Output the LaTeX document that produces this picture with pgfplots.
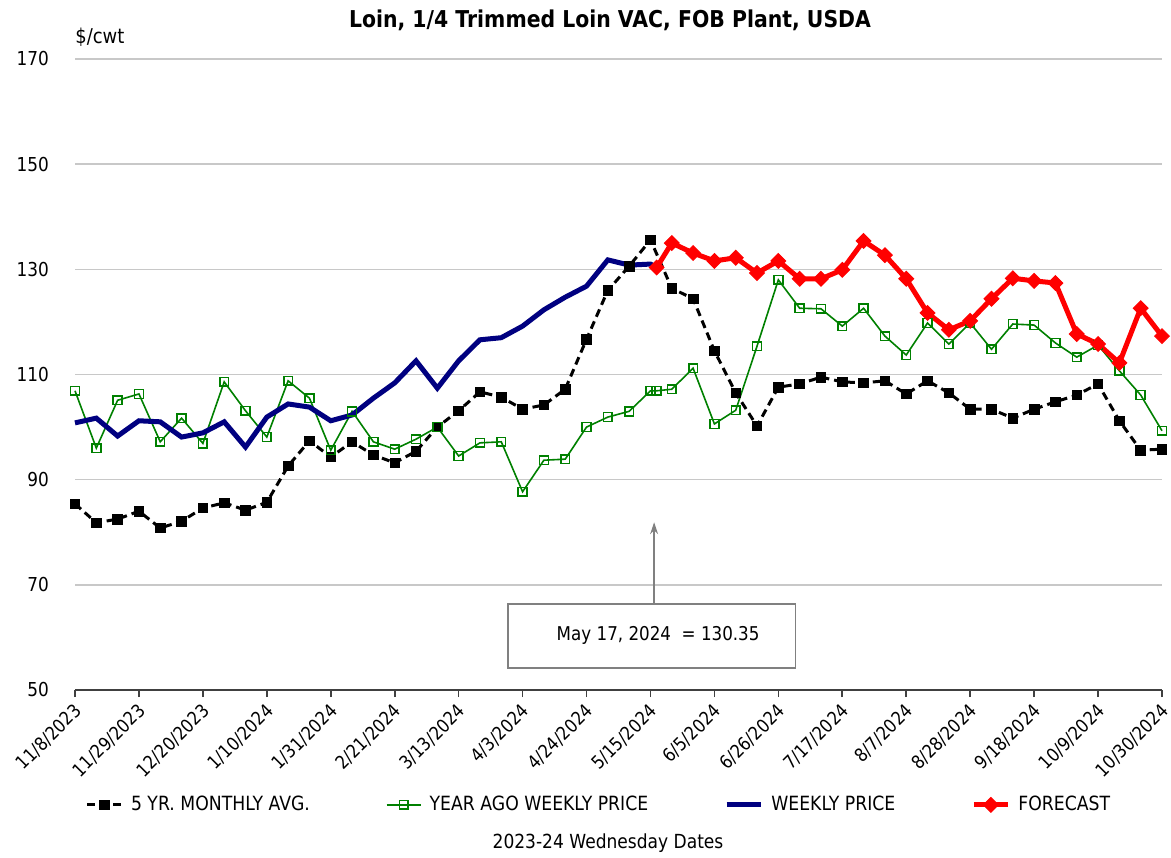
\documentclass[border=0pt]{standalone}
\usepackage{pgfplots}
\pgfplotsset{compat=1.18}
\usepackage{pgfplotstable}
\usetikzlibrary{arrows.meta}
\usepackage{fontspec}
\setmainfont{DejaVu Sans}[FakeStretch=0.88]
\definecolor{navyc}{RGB}{0,0,128}
\definecolor{greenc}{RGB}{0,128,0}
\definecolor{gridc}{RGB}{200,200,200}
\definecolor{redc}{RGB}{255,0,0}

\pgfplotstableread{
x y
0 85.4
1 81.8
2 82.5
3 84.0
4 80.8
5 82.1
6 84.6
7 85.6
8 84.2
9 85.7
10 92.6
11 97.4
12 94.3
13 97.2
14 94.7
15 93.2
16 95.4
17 100.0
18 103.1
19 106.7
20 105.7
21 103.4
22 104.2
23 107.2
24 116.7
25 126.0
26 130.6
27 135.6
28 126.4
29 124.4
30 114.5
31 106.5
32 100.2
33 107.6
34 108.2
35 109.5
36 108.6
37 108.4
38 108.8
39 106.3
40 108.8
41 106.5
42 103.4
43 103.4
44 101.7
45 103.4
46 104.8
47 106.1
48 108.2
49 101.2
50 95.6
51 95.8
}\fiveyr

\pgfplotstableread{
x y
0 106.9
1 96.0
2 105.1
3 106.3
4 97.2
5 101.7
6 96.9
7 108.6
8 103.1
9 98.1
10 108.8
11 105.5
12 95.6
13 103.0
14 97.2
15 95.8
16 97.7
17 100.0
18 94.5
19 97.0
20 97.2
21 87.7
22 93.7
23 93.9
24 100.0
25 101.9
26 103.0
27 106.9
27.29 106.9
28 107.2
29 111.2
30 100.6
31 103.2
32 115.4
33 128.0
34 122.6
35 122.5
36 119.2
37 122.6
38 117.3
39 113.7
40 119.8
41 115.8
42 119.8
43 114.8
44 119.6
45 119.4
46 116.0
47 113.3
48 115.6
49 110.7
50 106.1
51 99.3
}\yearago

\pgfplotstableread{
x y
0 100.8
1 101.7
2 98.3
3 101.2
4 101.0
5 98.1
6 98.9
7 101.0
8 96.2
9 101.9
10 104.4
11 103.8
12 101.2
13 102.3
14 105.5
15 108.4
16 112.6
17 107.4
18 112.6
19 116.6
20 117.0
21 119.2
22 122.3
23 124.7
24 126.8
25 131.8
26 130.8
27 131.0
27.29 130.35
}\weekly

\pgfplotstableread{
x y
27.29 130.35
28 135.0
29 133.1
30 131.6
31 132.2
32 129.3
33 131.6
34 128.2
35 128.2
36 129.9
37 135.4
38 132.7
39 128.2
40 121.7
41 118.5
42 120.2
43 124.4
44 128.3
45 127.8
46 127.4
47 117.7
48 115.8
49 112.2
50 122.6
51 117.3
}\forecast

\begin{document}
\begin{tikzpicture}[font=\fontsize{9.2}{11}\selectfont]
\path[use as bounding box] (-37.5pt,-83.5pt) rectangle (548pt,345pt);
\begin{axis}[
  at={(0,0)}, anchor=south west, scale only axis,
  width=543.5pt, height=315.5pt,
  xmin=0, xmax=51, ymin=50, ymax=170,
  clip=false,
  axis x line*=bottom, axis y line*=left,
  y axis line style={draw=none},
  x axis line style={draw=black!75, line width=0.8pt, -},
  ytick={50,70,...,170},
  ytick style={draw=none},
  xtick={0,3,...,51},
  xticklabels={11/8/2023,11/29/2023,12/20/2023,1/10/2024,1/31/2024,2/21/2024,3/13/2024,4/3/2024,4/24/2024,5/15/2024,6/5/2024,6/26/2024,7/17/2024,8/7/2024,8/28/2024,9/18/2024,10/9/2024,10/30/2024},
  xticklabel style={rotate=45, anchor=north east, inner sep=1pt, xshift=-1.5pt, font=\fontsize{9.2}{11}\selectfont},
  yticklabel style={xshift=-6pt, font=\fontsize{9.6}{11}\selectfont},
  tick align=outside, major tick length=3.5pt,
  xtick style={draw=black!75, line width=0.8pt},
  ymajorgrids, grid style={gridc, line width=0.75pt},
  /pgf/number format/assume math mode=true,
  legend style={at={(axis description cs:0.483,-0.182)}, anchor=center,
    legend columns=4, draw=none, fill=none, font=\fontsize{9.8}{11}\selectfont,
    /tikz/every even column/.append style={column sep=36pt},
    /tikz/every odd column/.append style={column sep=2pt}},
  legend cell align=left,
]
\addplot[black, line width=1.5pt, dash pattern=on 4pt off 2.5pt, mark=square*, mark size=2.4pt, mark options={solid, line width=0.4pt}] table {\fiveyr};
\addlegendentry{5 YR. MONTHLY AVG.}
\addplot[greenc, line width=0.8pt, mark=square, mark size=2.2pt, mark options={solid}] table {\yearago};
\addlegendentry{YEAR AGO WEEKLY PRICE}
\addplot[navyc, line width=2.5pt, no markers] table {\weekly};
\addlegendentry{WEEKLY PRICE}
\addplot[redc, line width=2.5pt, mark=square*, mark size=2.6pt, mark options={solid, rotate=45, line width=0.5pt}] table {\forecast};
\addlegendentry{FORECAST}

\draw[gray, line width=0.6pt, -{Stealth[length=6pt, width=4pt]}] (axis cs:27.17,66.35) -- (axis cs:27.17,81.9);
\draw[draw=gray, fill=white, line width=0.6pt] (axis cs:20.32,54.18) rectangle (axis cs:33.79,66.35);
\node[font=\fontsize{9.5}{11}\selectfont] at (axis cs:27.36,60.3) {May 17, 2024\ \ = 130.35};
\end{axis}
\node[font=\bfseries\fontsize{11.6}{13}\selectfont] at (267.5pt,335pt) {Loin, 1/4 Trimmed Loin VAC, FOB Plant, USDA};
\node[anchor=west, inner sep=0pt, font=\fontsize{10.2}{12}\selectfont] at (0pt,326.5pt) {\$/cwt};
\node[font=\fontsize{9.7}{11}\selectfont] at (266.5pt,-76.5pt) {2023-24 Wednesday Dates};
\end{tikzpicture}
\end{document}
